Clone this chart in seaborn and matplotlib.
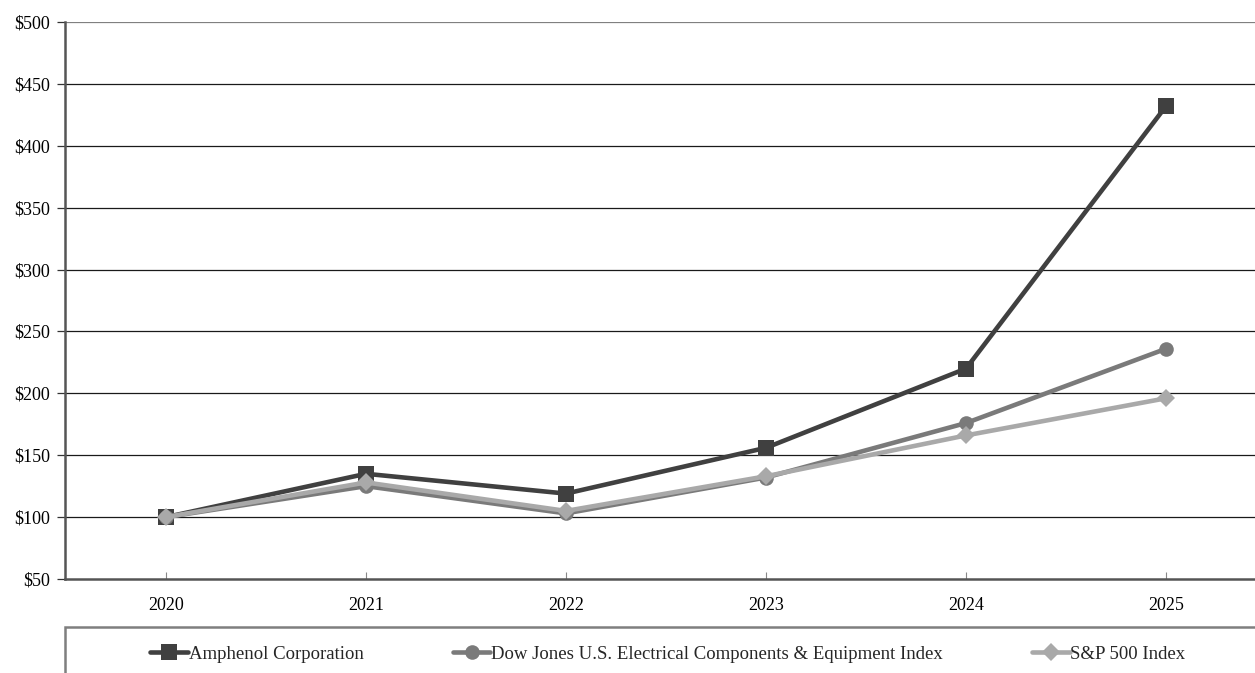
import matplotlib
matplotlib.use("Agg")
import matplotlib.pyplot as plt
import seaborn as sns
import pandas as pd
from matplotlib.patches import Rectangle

years = [2020, 2021, 2022, 2023, 2024, 2025]
amphenol = [100, 135, 119, 156, 220, 432]
dow_jones = [100, 125, 103, 132, 176, 236]
sp500 = [100, 128, 105, 133, 166, 196]
series_names = ["Amphenol Corporation",
                "Dow Jones U.S. Electrical Components & Equipment Index",
                "S&P 500 Index"]
y_ticks = [50, 100, 150, 200, 250, 300, 350, 400, 450, 500]

sns.set_theme(style="white")
plt.rcParams['font.family'] = ['Liberation Serif', 'DejaVu Serif']

df = pd.DataFrame({
    "year": years * 3,
    "value": amphenol + dow_jones + sp500,
    "series": [series_names[0]] * 6 + [series_names[1]] * 6 + [series_names[2]] * 6,
})

colors = {series_names[0]: "#404040", series_names[1]: "#7a7a7a", series_names[2]: "#a9a9a9"}
markers = {series_names[0]: "s", series_names[1]: "o", series_names[2]: "D"}
msize = {"s": 11.5, "o": 10.5, "D": 9}

W, H = 1255, 673
fig = plt.figure(figsize=(W / 100, H / 100), dpi=100)
ax = fig.add_axes([65 / W, 1 - 579 / H, 1 - 65 / W, (579 - 22) / H])

sns.lineplot(data=df, x="year", y="value", hue="series", style="series",
             palette=colors, markers=markers, dashes=False, linewidth=3.3,
             markersize=10, markeredgewidth=0, ax=ax, legend=False, zorder=3)
for line in ax.get_lines():
    m = line.get_marker()
    if m in msize:
        line.set_markersize(msize[m])

ax.set_xlim(2020 - 0.505, 2025 + 0.445)
ax.set_ylim(50, 500)
ax.set_yticks(y_ticks)
ax.set_yticklabels([f"${v}" for v in y_ticks])
ax.set_xticks(years)
ax.set_xticklabels([str(y) for y in years])
ax.set_xlabel("")
ax.set_ylabel("")

ax.grid(False)
for v in y_ticks[1:]:
    ax.axhline(v, color="#1a1a1a" if v < 500 else "#808080", lw=0.9, zorder=1)

for s in ["top", "right"]:
    ax.spines[s].set_visible(False)
for s in ["left", "bottom"]:
    ax.spines[s].set_color("#555555")
    ax.spines[s].set_linewidth(1.8)

ax.tick_params(axis="y", direction="out", length=6, width=0.9, color="#333333",
               labelsize=13, pad=5, labelcolor="black", left=True)
ax.tick_params(axis="x", direction="in", length=5, width=0.8, color="#888888",
               labelsize=13, pad=13, labelcolor="black", bottom=True)

# legend frame
fig.patches.append(Rectangle((65 / W, 0 - 0.05), 1.0, (673 - 627) / H + 0.05,
                             transform=fig.transFigure, fill=False,
                             edgecolor="#7f7f7f", linewidth=1.8))

handles = [plt.Line2D([], [], color=colors[n], marker=markers[n], lw=3.3,
                      markersize=msize[markers[n]], markeredgewidth=0)
           for n in series_names]
fig.legend(handles, series_names, loc="center left",
           bbox_to_anchor=(141 / W, 1 - 654 / H), ncol=3, frameon=False,
           borderpad=0, handlelength=2.0, handletextpad=0.05,
           columnspacing=4.75, fontsize=13.5)

fig.savefig("out.png", dpi=100)
